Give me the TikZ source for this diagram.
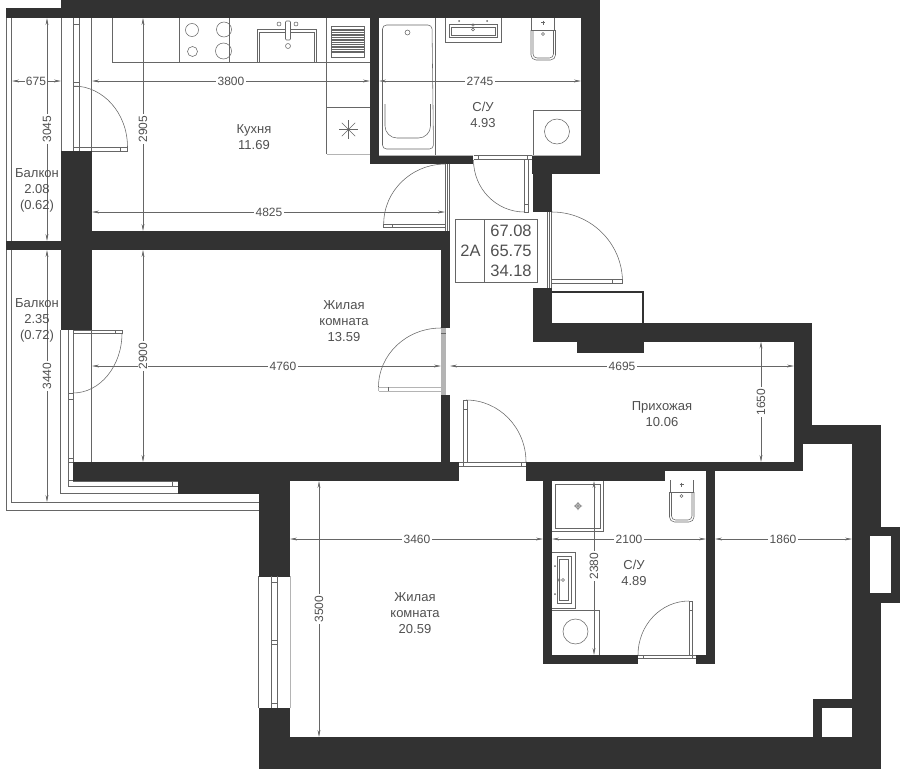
\documentclass[tikz,border=0pt]{standalone}
\usepackage{fontspec}
\setmainfont{Liberation Sans}
\usetikzlibrary{arrows.meta}
\definecolor{wallc}{HTML}{323232}
\definecolor{linec}{HTML}{666666}
\definecolor{lightc}{HTML}{B4B4B4}
\definecolor{textc}{HTML}{505050}
\tikzset{
  wall/.style={fill=wallc,draw=none},
  thin line/.style={draw=linec,line width=0.55pt},
  pale line/.style={draw=lightc,line width=0.9pt},
  dim line/.style={draw=linec,line width=0.55pt,{Stealth[length=7pt,width=2.8pt]}-{Stealth[length=7pt,width=2.8pt]}},
  dim label/.style={fill=white,inner sep=1.2pt,text=textc,font=\fontsize{12}{14}\selectfont},
  room label/.style={align=center,text=textc,inner sep=0pt,font=\fontsize{13}{16}\selectfont},
  table label/.style={text=textc,inner sep=0pt,font=\fontsize{16.5}{19}\selectfont}
}
\newcommand{\wallrect}[4]{\fill[wall] (#1,#2) rectangle (#3,#4);}
\newcommand{\hdim}[5]{%
  \coordinate (h#4a) at (#1,#3); \coordinate (h#4b) at (#2,#3);
  \draw[dim line] (h#4a) -- (h#4b);
  \node[dim label] (t#4) at (#5,#3) {#4};}
\newcommand{\vdim}[5]{%
  \coordinate (v#4a) at (#3,#1); \coordinate (v#4b) at (#3,#2);
  \draw[dim line] (v#4a) -- (v#4b);
  \node[dim label,rotate=90] (t#4) at (#3,#5) {#4};}
\newcommand{\bidet}[1]{%
  \begin{scope}[shift={(#1,0)}]
    \draw[thin line] (1,0) -- (1,12) -- (24,12) -- (24,0);
    \draw[thin line,rounded corners=5pt] (0.5,12) -- (0.5,42) -- (25,42) -- (25,12);
    \draw[thin line,rounded corners=4pt] (2.5,12) -- (2.5,40) -- (23,40) -- (23,12);
    \draw[linec,line width=0.9pt] (10.5,4.5) -- (14.5,4.5) (12.5,2.5) -- (12.5,6.5);
    \draw[thin line] (12.5,16) circle (1.5);
  \end{scope}}
\begin{document}
\begin{tikzpicture}[x=1pt,y=-1pt]
\useasboundingbox (0,0) rectangle (900,769);
% ---- balcony rails and window lines
\draw[thin line] (6,18) -- (6,241) (11.7,18) -- (11.7,241) (61,18) -- (61,151);
\draw[thin line] (6,250) -- (6,510.5) -- (258.5,510.5);
\draw[thin line] (11.7,250) -- (11.7,502.5) -- (258.5,502.5);
\draw[thin line] (60.5,330) -- (60.5,493.5) -- (178,493.5);
% upper balcony door frame
\draw[thin line] (73.5,18) -- (73.5,151) (79.5,18) -- (79.5,151) (91.7,18) -- (91.7,151);
\draw[thin line] (73.5,24) -- (79.5,24) (73.5,82) -- (79.5,82) (73.5,86) -- (79.5,86) (73.5,147) -- (79.5,147);
\draw[thin line] (73.5,86) arc[start angle=90,end angle=0,x radius=54,y radius=-61];
\draw[thin line] (74,147.5) -- (127.5,147.5) -- (127.5,151) -- (74,151) (120,147.5) -- (120,151);
% lower balcony door frame
\draw[thin line] (68.3,330) -- (68.3,486) -- (178,486) (73.3,330) -- (73.3,481) -- (178,481) (91.7,330) -- (91.7,462);
\draw[thin line] (68.3,393) -- (73.3,393) (68.3,399) -- (73.3,399) (68.3,458) -- (73.3,458) (68.3,462) -- (73.3,462) (68.3,480) -- (73.3,480) (172.5,481) -- (172.5,486);
\draw[thin line] (73.3,330) -- (122,330) -- (122,333) -- (73.3,333) (115,330) -- (115,333);
\draw[thin line] (122,333) arc[start angle=0,end angle=-90,x radius=49,y radius=-60];
% ---- walls
\wallrect{61}{0}{600}{18}
\wallrect{6}{8}{61}{18}
\wallrect{370.3}{18}{379.3}{164}
\wallrect{370.3}{155}{473.3}{164}
\wallrect{581}{18}{600}{173.5}
\wallrect{532}{155}{600}{173.5}
\wallrect{533}{173}{552}{212}
\wallrect{92}{231}{450}{250}
\wallrect{61}{151}{92}{330}
\wallrect{6}{241}{61}{250}
\wallrect{441}{250}{450}{328}
\wallrect{441}{395}{450}{462}
\wallrect{73.3}{462}{459}{481}
\wallrect{178}{481}{290}{494}
\wallrect{258.5}{494}{290}{576.5}
\wallrect{526}{462}{803}{471}
\wallrect{526}{471}{665.3}{481}
\wallrect{543}{481}{552}{664}
\wallrect{543}{655}{638}{664}
\wallrect{696}{655}{715}{664}
\wallrect{706}{471}{715}{664}
\wallrect{794}{323}{803}{471}
\wallrect{533}{288}{552}{341.5}
\wallrect{552}{323}{812}{341.5}
\wallrect{577}{341}{643.5}{352.5}
\wallrect{803}{323}{812}{444}
\wallrect{812}{425}{881}{444.3}
\wallrect{851.5}{444}{881}{737}
\wallrect{851.5}{527}{900}{602.5}
\fill[white] (870,536) rectangle (890.5,593);
\wallrect{813}{699}{852}{708}
\wallrect{813}{708}{822}{737}
\wallrect{258.5}{737}{881}{769}
\wallrect{258.5}{708}{290}{737}
% shaft outline
\draw[wallc,line width=1.8pt] (552,292) -- (642.7,292) -- (642.7,323);
% ---- lower-left window
\draw[thin line] (258.5,576) -- (258.5,708) (271.5,576) -- (271.5,708) (277.5,576) -- (277.5,708);
\draw[pale line] (290,576) -- (290,708);
\draw[thin line] (271.5,582) -- (277.5,582) (271.5,640) -- (277.5,640) (271.5,644.5) -- (277.5,644.5) (271.5,703) -- (277.5,703);
% ---- kitchen furniture
\draw[thin line] (112,18) -- (112,62.5) -- (370,62.5);
\draw[thin line] (179.5,18) -- (179.5,62.5) (229,18) -- (229,62.5);
\draw[thin line] (192,30) circle (6.5) (224,29.5) circle (7.5) (192.5,51.5) circle (5) (223.5,51) circle (8);
\draw[thin line] (257.5,62.5) -- (257.5,29.5) -- (316.5,29.5) -- (316.5,62.5);
\draw[thin line] (259.5,62.5) -- (259.5,32) -- (314.5,32) -- (314.5,62.5);
\draw[thin line,fill=white,rounded corners=1pt] (285.5,21) rectangle (290.5,40);
\draw[thin line] (279,24) circle (2) (296,24) circle (2) (288,46) circle (2.5);
\draw[thin line] (326.5,18) -- (326.5,154);
\draw[thin line] (331.5,26) rectangle (364,57);
\foreach \yy in {29,30.7,...,54}{\draw[linec,line width=0.9pt] (332,\yy) -- (363.5,\yy);}
\draw[thin line] (326.5,107) -- (370,107);
\draw[pale line] (326.5,154) -- (370,154);
\foreach \aa in {0,45,...,315}{\draw[thin line] (348.5,129.5) -- ++(\aa:9.5);}
\fill[linec] (348.5,129.5) circle (1.3);
% ---- bath 1 fixtures
\draw[pale line] (379,155) -- (473,155) (532,155) -- (581,155);
\draw[thin line,rounded corners=4pt] (382.5,25) -- (432,25) -- (433.5,149) -- (382.5,149) -- cycle;
\draw[thin line,rounded corners=12pt] (385,104) -- (385,138) -- (430.5,138) -- (430.5,104);
\draw[thin line] (407.5,32.5) circle (2.5);
\draw[thin line] (435.7,18) -- (435.7,155);
\draw[thin line] (445,18) -- (445,42) -- (501.5,42) -- (501.5,18);
\draw[thin line] (449.5,24.5) rectangle (497,37.5);
\draw[thin line] (451.5,27) rectangle (495,35);
\fill[linec] (459,21) circle (1) (487,21) circle (1);
\draw[thin line] (473,25) circle (1.2) (473,29.5) circle (1.5);
\begin{scope}[yshift=-18pt]\bidet{530.5}\end{scope}
\draw[thin line] (533.5,155) -- (533.5,110.5) -- (581,110.5);
\draw[thin line] (557,131.5) circle (12.5);
% door 1 (kitchen)
\draw[thin line] (445.7,164) -- (445.7,231) (447.7,164) -- (447.7,231) (449.7,164) -- (449.7,231);
\draw[thin line] (445.7,164) arc[start angle=90,end angle=180,x radius=62,y radius=-60];
\draw[thin line] (383.7,224) -- (445.7,224) (383.7,227.5) -- (445.7,227.5) (383.7,224) -- (383.7,227.5) (392,224) -- (392,227.5);
% door 2 (bath 1)
\draw[thin line] (473.5,155) -- (532,155) (473.5,159) -- (532,159) (478,155) -- (478,159) (527.5,155) -- (527.5,159);
\draw[thin line] (524.3,159) -- (524.3,212) -- (528.3,212) -- (528.3,159) (524.3,204) -- (528.3,204);
\draw[thin line] (473.5,160) arc[start angle=180,end angle=270,x radius=51,y radius=-52];
% door 3 (entrance)
\draw[thin line] (547.5,212) -- (547.5,288) (549.6,212) -- (549.6,288) (551.7,212) -- (551.7,288);
\draw[thin line] (552,212) arc[start angle=90,end angle=0,x radius=70.5,y radius=-70];
\draw[thin line] (552,279.5) -- (622.5,279.5) -- (622.5,283) -- (552,283) (612,279.5) -- (612,283);
% door 4 (living room)
\fill[lightc] (441,328) rectangle (446,395);
\draw[thin line] (441,328) arc[start angle=90,end angle=180,x radius=62.5,y radius=-59];
\draw[draw=lightc,line width=1pt] (378.5,387) -- (441,387) (378.5,391) -- (446,391) (378.5,387) -- (378.5,391);
\draw[thin line] (388,387) -- (388,391) (441,333) -- (446,333);
% door 5 (hall)
\draw[thin line] (459,462.5) -- (526,462.5) (459,466) -- (526,466) (463,462) -- (463,466) (521,462) -- (521,466);
\draw[thin line] (463.5,462) -- (463.5,400) -- (467,400) -- (467,462) (463.5,409) -- (467,409);
\draw[thin line] (466,400) arc[start angle=90,end angle=0,x radius=60,y radius=-62];
% ---- bath 2 fixtures
\draw[thin line] (603.5,481) -- (603.5,531.5) -- (552,531.5);
\draw[thin line] (555.5,484) rectangle (600,528);
\draw[thin line] (578,506) circle (2.5) (574,506) -- (582,506) (578,502) -- (578,510);
\draw[thin line] (552,552) -- (575.5,552) -- (575.5,608) -- (552,608);
\draw[thin line] (557,556.5) rectangle (571,603);
\draw[thin line] (559.5,559) rectangle (568.5,600.5);
\fill[linec] (555,566) circle (1) (555,594) circle (1);
\draw[thin line] (559,580) circle (1.2) (563,580) circle (1.5);
\draw[thin line] (552,610) -- (599.5,610) -- (599.5,655);
\draw[thin line] (575.5,631.5) circle (12.5);
\begin{scope}[yshift=-480pt]\bidet{669}\end{scope}
% door 6 (bath 2)
\draw[thin line] (638,655) -- (696,655) (638,658.5) -- (696,658.5) (643,655) -- (643,658.5) (692,655) -- (692,658.5);
\draw[thin line] (689,655) -- (689,601) -- (692.5,601) -- (692.5,655) (689,610) -- (692.5,610);
\draw[thin line] (689,601) arc[start angle=90,end angle=180,x radius=51,y radius=-54];
% ---- dimensions
\hdim{12}{61}{81}{675}{36}
\hdim{92}{370}{81}{3800}{231}
\hdim{379}{581}{81}{2745}{480}
\hdim{92}{445}{212}{4825}{269}
\vdim{18}{231}{143}{2905}{129}
\vdim{18}{241}{47}{3045}{129}
\hdim{92}{441}{366}{4760}{283}
\vdim{250}{462}{143}{2900}{356}
\vdim{250}{502}{47}{3440}{376}
\hdim{450}{794}{366}{4695}{622}
\vdim{341.5}{462}{761}{1650}{402}
\hdim{290}{543}{539}{3460}{417}
\hdim{552}{706}{539}{2100}{629}
\hdim{715}{852}{539}{1860}{783}
\vdim{481}{655}{594}{2380}{566}
\vdim{481}{737}{319}{3500}{609}
% ---- room labels
\node[room label] (kitchen) at (254,137) {Кухня\\11.69};
\node[room label] (bathA) at (483,115) {С/У\\4.93};
\node[room label] (balconyA) at (37,190) {Балкон\\2.08\\(0.62)};
\node[room label] (balconyB) at (37,320) {Балкон\\2.35\\(0.72)};
\node[room label] (livingA) at (344,321.5) {Жилая\\комната\\13.59};
\node[room label] (hall) at (662,414) {Прихожая\\10.06};
\node[room label] (livingB) at (415,613) {Жилая\\комната\\20.59};
\node[room label] (bathB) at (634,573) {С/У\\4.89};
% ---- summary table
\draw[draw=linec,line width=0.6pt] (455.5,219.5) rectangle (537.5,282.5) (484.5,219.5) -- (484.5,282.5);
\node[table label] (flat) at (470.5,251) {2А};
\node[table label] (areaA) at (511,231) {67.08};
\node[table label] (areaB) at (511,251) {65.75};
\node[table label] (areaC) at (511,271) {34.18};
\end{tikzpicture}
\end{document}
